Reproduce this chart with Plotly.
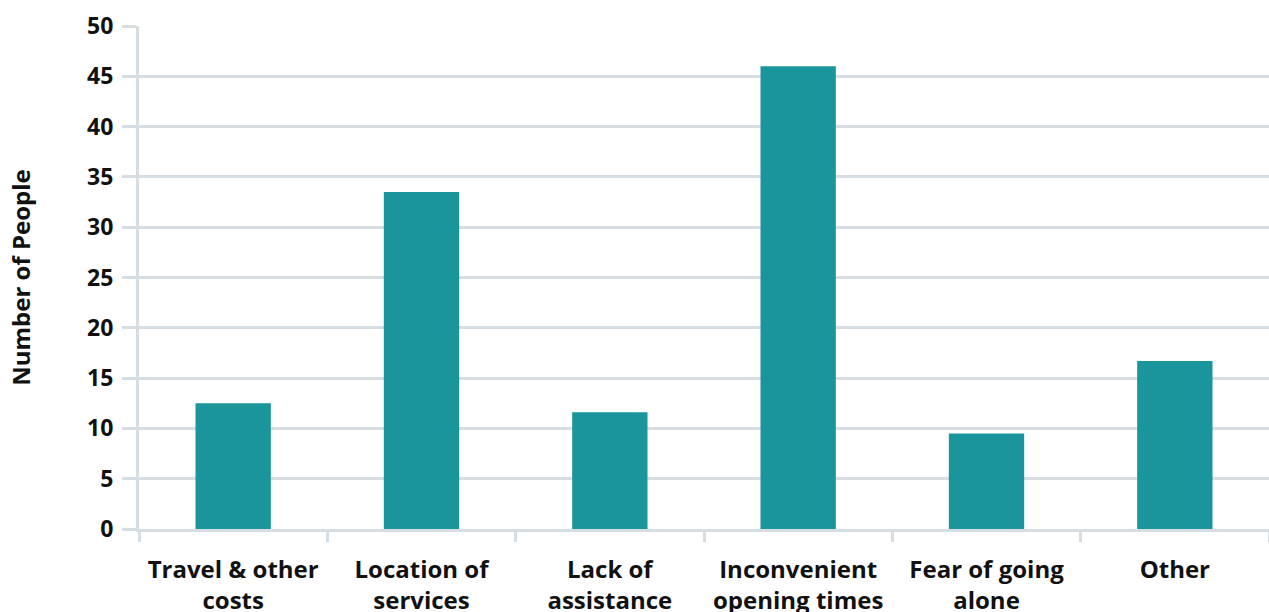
import plotly.graph_objects as go

categories = ["Travel & other<br>costs", "Location of<br>services", "Lack of<br>assistance",
              "Inconvenient<br>opening times", "Fear of going<br>alone", "Other"]
values = [12.5, 33.5, 11.6, 46.0, 9.5, 16.7]
y_ticks = [0, 5, 10, 15, 20, 25, 30, 35, 40, 45, 50]

GRID = "#d6dee4"
BAR = "#1b959c"
FONT = "Open Sans"
TXT = "#111111"

fig = go.Figure(go.Bar(x=categories, y=values, marker_color=BAR, marker_line_width=0))

fig.update_layout(
    width=1269, height=612,
    margin=dict(l=139, r=0, t=26, b=83, autoexpand=False),
    paper_bgcolor="white", plot_bgcolor="white",
    bargap=0.6, showlegend=False,
    font=dict(family=FONT, color=TXT),
)
fig.update_yaxes(
    range=[0, 50], tickvals=y_ticks,
    showgrid=True, gridcolor=GRID, gridwidth=3,
    ticks="outside", ticklen=14, tickcolor=GRID, tickwidth=3,
    showline=True, linecolor=GRID, linewidth=3,
    zeroline=False, automargin=False,
    ticklabelstandoff=4,
    tickfont=dict(size=23, family=FONT, color=TXT, weight="bold"),
    title=dict(text="<b>Number of People</b>", font=dict(size=24, family=FONT, color=TXT), standoff=50),
)
fig.update_xaxes(
    showgrid=False, automargin=False,
    showline=True, linecolor=GRID, linewidth=3,
    ticks="outside", tickson="boundaries", ticklen=10, tickcolor=GRID, tickwidth=3,
    ticklabelstandoff=17,
    tickfont=dict(size=24, family=FONT, color=TXT, weight="bold"),
)

fig.write_html("out.html",
               config={"displayModeBar": False},
               post_script="document.body.style.margin='0';document.body.style.overflow='hidden';")
